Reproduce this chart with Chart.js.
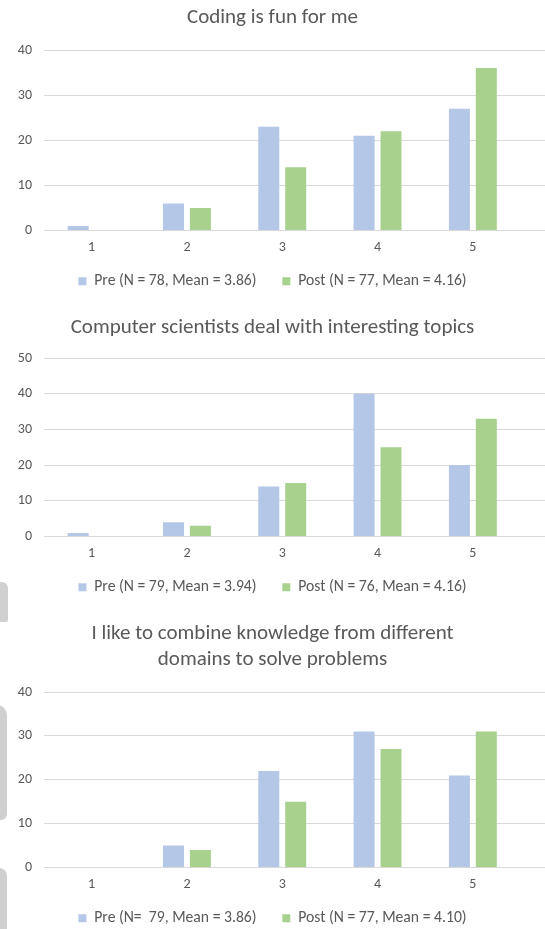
<!DOCTYPE html>
<html>
<head>
<meta charset="utf-8">
<script src="https://cdn.jsdelivr.net/npm/chart.js@4.4.0/dist/chart.umd.min.js"></script>
<style>
    html, body { margin: 0; padding: 0; background: #ffffff; overflow: hidden; }
    body { width: 545px; height: 929px; position: relative; }
    .box { position: absolute; left: 0; width: 545px; }
    .mark { position: absolute; background: #d0d0d0; }
</style>
</head>
<body>
<div class="box" style="top:0;height:300px"><canvas id="chart1"></canvas></div>
<div class="box" style="top:305px;height:300px"><canvas id="chart2"></canvas></div>
<div class="box" style="top:612px;height:324px"><canvas id="chart3"></canvas></div>
<!-- grey scraps on the left edge of the scan -->
<div class="mark" style="left:-6px;top:582px;width:14px;height:40px;border-radius:0 6px 2px 0"></div>
<div class="mark" style="left:-8px;top:705px;width:15px;height:115px;border-radius:0 10px 6px 0"></div>
<div class="mark" style="left:-8px;top:868px;width:15px;height:70px;border-radius:0 8px 0 0"></div>
<script>
const categories = [1, 2, 3, 4, 5];

const titles = [
    'Coding is fun for me',
    'Computer scientists deal with interesting topics',
    ['I like to combine knowledge from different', 'domains to solve problems']
];

const preLabels = ['Pre (N = 78, Mean = 3.86)', 'Pre (N = 79, Mean = 3.94)', 'Pre (N=  79, Mean = 3.86)'];
const postLabels = ['Post (N = 77, Mean = 4.16)', 'Post (N = 76, Mean = 4.16)', 'Post (N = 77, Mean = 4.10)'];

const preValues1 = [1, 6, 23, 21, 27];
const postValues1 = [0, 5, 14, 22, 36];
const preValues2 = [1, 4, 14, 40, 20];
const postValues2 = [0, 3, 15, 25, 33];
const preValues3 = [0, 5, 22, 31, 21];
const postValues3 = [0, 4, 15, 27, 31];

const yMax = [40, 50, 40];

const preColor = '#b4c7e7';
const postColor = '#a9d18e';
const textColor = '#595959';
const gridColor = '#d9d9d9';
const fontFamily = 'Carlito, Calibri, Lato, sans-serif';

function toPoints(values) {
    return categories.map((c, i) => ({ x: c, y: values[i] }));
}

function makeChart(canvasId, idx, preValues, postValues, pad) {
    const ctx = document.getElementById(canvasId).getContext('2d');
    return new Chart(ctx, {
        type: 'bar',
        data: {
            datasets: [{
                label: preLabels[idx],
                data: toPoints(preValues),
                backgroundColor: preColor,
                categoryPercentage: 0.565,
                barPercentage: 0.78
            }, {
                label: postLabels[idx],
                data: toPoints(postValues),
                backgroundColor: postColor,
                categoryPercentage: 0.565,
                barPercentage: 0.78
            }]
        },
        options: {
            responsive: true,
            maintainAspectRatio: false,
            animation: false,
            layout: {
                padding: { left: 0, right: 0, top: pad.top, bottom: pad.bottom }
            },
            plugins: {
                title: {
                    display: true,
                    text: titles[idx],
                    color: textColor,
                    font: { family: fontFamily, size: 21, weight: 'normal', lineHeight: 1.24 },
                    padding: { top: 0, bottom: pad.title }
                },
                legend: {
                    position: 'bottom',
                    labels: {
                        color: textColor,
                        font: { family: fontFamily, size: 15.7 },
                        boxWidth: 8,
                        boxHeight: 8,
                        padding: 8,
                        // wider gap between the two entries, like the original
                        generateLabels: (chart) => {
                            const items = Chart.defaults.plugins.legend.labels.generateLabels(chart);
                            items[0].text = items[0].text + '     ';
                            return items;
                        }
                    }
                },
                tooltip: { enabled: false }
            },
            scales: {
                x: {
                    type: 'linear',
                    offset: false,
                    min: 0.5,
                    max: 5.757,
                    grid: { display: false, drawTicks: false },
                    border: { display: false },
                    afterBuildTicks: (axis) => {
                        axis.ticks = categories.map(c => ({ value: c }));
                    },
                    ticks: {
                        color: textColor,
                        font: { family: fontFamily, size: 14 },
                        padding: 9
                    }
                },
                y: {
                    min: 0,
                    max: yMax[idx],
                    grid: { color: gridColor, drawTicks: false },
                    border: { display: false },
                    afterFit: (axis) => { axis.width = 44; },
                    ticks: {
                        stepSize: 10,
                        color: textColor,
                        font: { family: fontFamily, size: 14 },
                        padding: 12
                    }
                }
            }
        }
    });
}

makeChart('chart1', 0, preValues1, postValues1, { top: 5, title: 19, bottom: 1 });
makeChart('chart2', 1, preValues2, postValues2, { top: 10, title: 17, bottom: 0 });
makeChart('chart3', 2, preValues3, postValues3, { top: 9, title: 19, bottom: 0 });
</script>
</body>
</html>
